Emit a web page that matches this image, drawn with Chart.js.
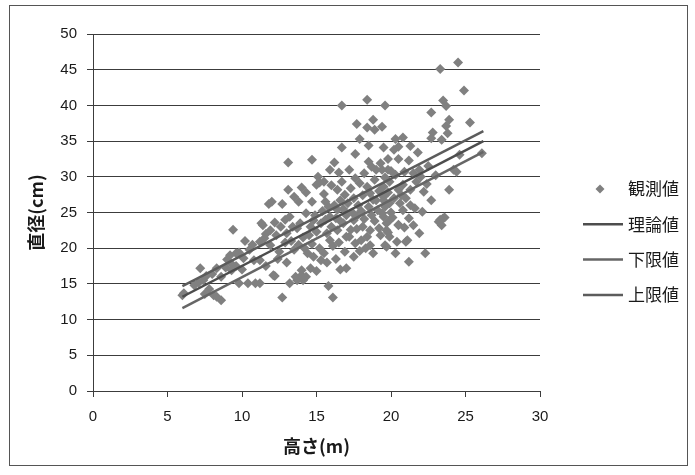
<!DOCTYPE html>
<html>
<head>
<meta charset="utf-8">
<script src="https://cdn.jsdelivr.net/npm/chart.js@4.4.1/dist/chart.umd.min.js"></script>
<style>
  body { margin: 0; background: #fff; }
</style>
</head>
<body>
<canvas id="treeChart" width="695" height="475"></canvas>
<script>
// 観測値 [高さ(m), 直径(cm)]
const observed = [
    [24.5,46.0],[23.3,45.1],[24.9,42.1],[16.7,40.0],[18.4,40.8],[19.6,40.0],[23.5,40.7],[23.7,39.9],
    [22.7,39.0],[23.9,38.0],[25.3,37.6],[17.7,37.4],[18.4,36.9],[18.8,38.0],[18.9,36.6],[19.4,37.0],
    [23.7,37.1],[23.8,36.1],[22.8,36.2],[23.4,35.2],[22.7,35.4],[20.3,35.3],[20.8,35.5],[20.5,34.2],
    [16.7,34.1],[19.5,34.1],[21.2,32.3],[21.8,33.4],[13.1,32.0],[14.7,32.4],[16.2,32.0],[15.9,31.0],
    [18.5,32.1],[18.7,31.4],[19.3,31.9],[19.0,31.0],[19.4,31.0],[19.8,31.0],[24.6,33.1],[24.4,30.7],
    [24.2,31.0],[23.9,28.2],[22.7,26.7],[15.1,30.0],[15.2,29.2],[13.1,28.2],[11.8,26.2],[12.7,26.2],
    [13.8,26.5],[14.7,26.5],[15.5,27.6],[21.3,26.0],[22.1,25.1],[23.6,24.3],[23.3,24.0],[26.1,33.3],
    [17.2,31.0],[20.3,30.3],[20.9,30.7],[21.5,30.5],[19.5,28.6],[19.9,29.3],[20.5,28.2],[20.8,28.9],
    [21.3,28.2],[15.5,29.3],[15.0,28.9],[16.4,28.2],[16.7,29.3],[16.9,27.5],[16.6,26.7],[17.9,29.1],
    [18.4,28.6],[18.6,27.7],[19.0,26.7],[19.5,27.2],[12.0,26.5],[15.6,26.5],[13.2,24.4],[14.3,24.9],
    [14.8,23.9],[15.9,24.4],[16.4,25.4],[12.6,23.0],[12.3,21.8],[13.0,22.1],[13.7,22.8],[14.6,23.0],
    [15.0,22.3],[15.7,22.1],[16.4,22.5],[16.8,23.5],[17.5,23.9],[18.1,23.0],[18.6,22.5],[19.3,21.8],
    [19.7,23.5],[15.9,21.1],[17.0,21.6],[17.6,20.7],[19.5,26.7],[19.9,26.3],[20.6,26.3],[19.5,24.4],
    [19.9,23.9],[20.5,23.2],[21.2,24.2],[21.5,23.2],[21.9,22.1],[19.7,22.5],[19.9,21.6],[20.4,20.9],
    [21.0,20.9],[19.6,20.4],[20.3,19.3],[21.2,18.1],[22.3,19.3],[23.4,23.2],[23.2,23.7],[23.5,24.2],
    [9.4,22.6],[11.4,23.2],[11.9,22.5],[9.6,19.3],[9.0,18.4],[7.2,17.2],[8.3,17.2],[7.6,16.1],
    [6.0,13.4],[8.3,13.2],[8.6,12.7],[7.8,14.3],[9.8,15.1],[10.4,15.1],[10.9,15.1],[11.2,15.1],
    [12.2,16.1],[12.7,13.1],[13.2,15.1],[13.7,15.5],[14.0,16.9],[14.3,16.0],[15.8,14.7],[16.1,13.1],
    [17.0,17.2],[18.8,19.3],[21.1,21.1],[20.5,23.3],[20.9,22.9],[19.7,20.2],[19.8,22.2],[19.2,22.8],
    [18.4,21.6],[18.0,21.1],[17.7,22.7],[17.2,21.6],[13.6,16.0],[14.0,16.2],[14.1,15.5],[14.4,19.3],
    [14.8,18.8],[15.3,18.3],[15.5,19.3],[16.9,19.5],[11.3,23.5],[9.8,19.4],[9.2,19.0],[9.3,17.8],
    [8.6,16.0],[9.3,16.9],[6.1,13.7],[8.1,13.4],[7.4,15.5],[10.8,18.3],[11.2,18.3],[11.6,17.5],
    [12.1,16.2],[11.2,20.9],[11.5,21.4],[11.9,20.4],[12.5,19.5],[12.9,20.8],[13.3,21.0],[13.5,19.8],
    [13.8,20.5],[14.1,21.5],[14.2,20.0],[14.5,21.8],[14.7,20.6],[14.9,24.6],[15.2,20.0],[15.3,23.5],
    [15.4,25.2],[15.6,24.0],[15.8,25.8],[16.0,23.0],[16.1,20.3],[16.2,26.0],[16.3,24.2],[16.5,20.8],
    [16.6,23.8],[16.8,25.5],[17.0,24.6],[17.1,26.3],[17.3,22.6],[17.4,25.0],[17.5,27.0],[17.7,24.5],
    [17.8,26.0],[18.0,25.2],[18.1,27.4],[18.2,24.1],[18.3,20.0],[18.5,25.8],[18.7,24.6],[18.8,26.8],
    [18.9,23.8],[19.1,25.3],[19.2,28.0],[19.4,24.9],[19.6,25.8],[19.8,27.8],[20.0,25.0],[20.1,24.3],
    [20.2,27.0],[13.9,23.5],[13.4,23.0],[12.9,24.0],[12.2,23.6],[11.6,22.0],[10.5,19.8],[10.1,18.6],
    [10.7,20.5],[10.2,21.0],[9.6,17.5],[8.9,17.3],[8.0,16.4],[7.1,15.2],[6.8,14.8],[7.5,13.6],
    [10.0,17.0],[12.4,18.5],[13.0,18.0],[14.6,17.2],[15.0,16.8],[15.7,18.0],[16.3,18.5],[16.6,17.0],
    [17.5,18.8],[17.9,19.6],[18.6,20.4],[14.3,27.8],[14.0,28.5],[13.5,27.2],[16.0,28.8],[17.3,28.4],
    [17.6,29.8],[18.2,30.5],[16.5,30.6],[18.9,29.6],[19.6,29.9],[20.0,30.8],[20.7,27.4],[21.0,27.0],
    [21.7,29.3],[22.0,30.0],[22.2,27.9],[21.6,25.6],[20.8,25.3],[22.4,29.0],[23.0,30.2],[22.5,31.5],
    [21.9,31.0],[20.5,32.5],[20.2,33.8],[19.8,32.5],[21.3,34.3],[18.5,34.4],[17.6,33.2],[17.9,35.3]
];

// 理論値・下限値・上限値 (両端)
const theoryLine = [[6.0,13.2],[26.2,35.0]];
const lowerLine  = [[6.0,11.6],[26.2,33.5]];
const upperLine  = [[6.0,14.7],[26.2,36.4]];

const xTicks = [0, 5, 10, 15, 20, 25, 30];
const yTicks = [0, 5, 10, 15, 20, 25, 30, 35, 40, 45, 50];

const toPoints = arr => arr.map(p => ({ x: p[0], y: p[1] }));

// 外枠と背景
const frame = {
    id: 'frame',
    beforeDraw(chart) {
        const ctx = chart.ctx;
        ctx.save();
        ctx.fillStyle = '#fff';
        ctx.fillRect(0, 0, chart.width, chart.height);
        ctx.restore();
    },
    afterDraw(chart) {
        const ctx = chart.ctx;
        ctx.save();
        ctx.strokeStyle = '#555';
        ctx.lineWidth = 1;
        ctx.strokeRect(9.5, 5.5, 678, 460);
        ctx.restore();
    }
};

// 凡例 (右側)
const sideLegend = {
    id: 'sideLegend',
    afterDraw(chart) {
        const ctx = chart.ctx;
        ctx.save();
        ctx.font = "17px 'Noto Sans CJK JP'";
        ctx.textBaseline = 'middle';
        chart.data.datasets.forEach((ds, i) => {
            const y = 189 + i * 35.3;
            if (ds.showLine) {
                ctx.strokeStyle = ds.borderColor;
                ctx.lineWidth = ds.borderWidth;
                ctx.beginPath();
                ctx.moveTo(583, y);
                ctx.lineTo(623, y);
                ctx.stroke();
            } else {
                ctx.fillStyle = ds.backgroundColor;
                ctx.beginPath();
                ctx.moveTo(600, y - 4.5);
                ctx.lineTo(604.5, y);
                ctx.lineTo(600, y + 4.5);
                ctx.lineTo(595.5, y);
                ctx.closePath();
                ctx.fill();
            }
            ctx.fillStyle = '#1a1a1a';
            ctx.fillText(ds.label, 628, y);
        });
        ctx.restore();
    }
};

function initChart() {
    const ctx = document.getElementById('treeChart').getContext('2d');
    Chart.defaults.font.family = "'Liberation Sans', 'Noto Sans CJK JP', sans-serif";
    Chart.defaults.color = '#1a1a1a';

    const lineStyle = (label, data, color) => ({
        label,
        data: toPoints(data),
        showLine: true,
        borderColor: color,
        borderWidth: 2.5,
        pointRadius: 0,
        pointHoverRadius: 0,
        fill: false,
        order: 1
    });

    new Chart(ctx, {
        type: 'scatter',
        data: {
            datasets: [
                {
                    label: '観測値',
                    data: toPoints(observed),
                    pointStyle: 'rectRot',
                    pointRadius: 5,
                    pointHoverRadius: 5,
                    backgroundColor: '#808080',
                    borderWidth: 0,
                    order: 2
                },
                lineStyle('理論値', theoryLine, '#4d4d4d'),
                lineStyle('下限値', lowerLine, '#666666'),
                lineStyle('上限値', upperLine, '#5c5c5c')
            ]
        },
        options: {
            responsive: false,
            animation: false,
            events: [],
            layout: {
                padding: { left: 25, top: 34, right: 155, bottom: 18 }
            },
            plugins: {
                legend: { display: false },
                tooltip: { enabled: false }
            },
            scales: {
                x: {
                    type: 'linear',
                    min: 0,
                    max: 30,
                    afterBuildTicks: axis => { axis.ticks = xTicks.map(v => ({ value: v })); },
                    afterFit: axis => { axis.height = 66; },
                    grid: { drawOnChartArea: false, drawTicks: true, tickLength: 6, color: '#3c3c3c' },
                    border: { display: true, color: '#3c3c3c', width: 1 },
                    ticks: { font: { size: 15 }, padding: 11, maxRotation: 0 },
                    title: {
                        display: true,
                        text: '高さ(m)',
                        font: { family: "'Noto Sans CJK JP'", size: 18, weight: 'bold' },
                        padding: { top: 9, bottom: 0 }
                    }
                },
                y: {
                    type: 'linear',
                    min: 0,
                    max: 50,
                    afterBuildTicks: axis => { axis.ticks = yTicks.map(v => ({ value: v })); },
                    afterFit: axis => { axis.width = 68; },
                    grid: { drawOnChartArea: true, drawTicks: true, tickLength: 6, color: '#3c3c3c' },
                    border: { display: true, color: '#3c3c3c', width: 1 },
                    ticks: { font: { size: 15 }, padding: 10 },
                    title: {
                        display: true,
                        text: '直径(cm)',
                        font: { family: "'Noto Sans CJK JP'", size: 18, weight: 'bold' },
                        padding: { top: 0, bottom: 14 }
                    }
                }
            }
        },
        plugins: [frame, sideLegend]
    });
}

document.addEventListener('DOMContentLoaded', initChart);
</script>
</body>
</html>
